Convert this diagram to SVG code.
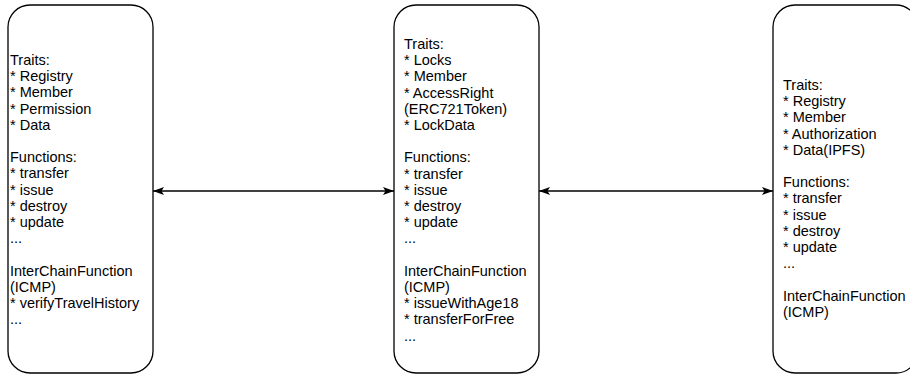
<svg xmlns="http://www.w3.org/2000/svg" width="910" height="376" viewBox="0 0 910 376">
  <style>
    .box { fill: #ffffff; stroke: #000000; stroke-width: 1.3; }
    .label { font-family: "Liberation Sans", Arial, Helvetica, sans-serif; font-size: 14.5px; fill: #000000; }
    .link { fill: none; stroke: #000000; stroke-width: 1.3; }
  </style>
  <defs>
    <marker id="head" viewBox="0 0 11 8" refX="11" refY="4" markerWidth="11" markerHeight="8" markerUnits="userSpaceOnUse" orient="auto-start-reverse">
      <path d="M0,0 L11,4 L0,8 L2.5,4 Z" fill="#000000"/>
    </marker>
  </defs>
  <rect width="910" height="376" fill="#ffffff"/>

  <g id="chain-a">
    <rect class="box" x="8" y="5" width="145" height="368" rx="22" ry="22"/>
    <text class="label" x="10" y="65">
      <tspan x="10">Traits:</tspan>
      <tspan x="10" dy="16.2">* Registry</tspan>
      <tspan x="10" dy="16.2">* Member</tspan>
      <tspan x="10" dy="16.2">* Permission</tspan>
      <tspan x="10" dy="16.2">* Data</tspan>
      <tspan x="10" dy="32.4">Functions:</tspan>
      <tspan x="10" dy="16.2">* transfer</tspan>
      <tspan x="10" dy="16.2">* issue</tspan>
      <tspan x="10" dy="16.2">* destroy</tspan>
      <tspan x="10" dy="16.2">* update</tspan>
      <tspan x="10" dy="16.2">...</tspan>
      <tspan x="10" dy="32.4">InterChainFunction</tspan>
      <tspan x="10" dy="16.2">(ICMP)</tspan>
      <tspan x="10" dy="16.2">* verifyTravelHistory</tspan>
      <tspan x="10" dy="16.2">...</tspan>
    </text>
  </g>

  <g id="chain-b">
    <rect class="box" x="394" y="5" width="145" height="368" rx="22" ry="22"/>
    <text class="label" x="404" y="49">
      <tspan x="404">Traits:</tspan>
      <tspan x="404" dy="16.2">* Locks</tspan>
      <tspan x="404" dy="16.2">* Member</tspan>
      <tspan x="404" dy="16.2">* AccessRight</tspan>
      <tspan x="404" dy="16.2">(ERC721Token)</tspan>
      <tspan x="404" dy="16.2">* LockData</tspan>
      <tspan x="404" dy="32.4">Functions:</tspan>
      <tspan x="404" dy="16.2">* transfer</tspan>
      <tspan x="404" dy="16.2">* issue</tspan>
      <tspan x="404" dy="16.2">* destroy</tspan>
      <tspan x="404" dy="16.2">* update</tspan>
      <tspan x="404" dy="16.2">...</tspan>
      <tspan x="404" dy="32.4">InterChainFunction</tspan>
      <tspan x="404" dy="16.2">(ICMP)</tspan>
      <tspan x="404" dy="16.2">* issueWithAge18</tspan>
      <tspan x="404" dy="16.2">* transferForFree</tspan>
      <tspan x="404" dy="16.2">...</tspan>
    </text>
  </g>

  <g id="chain-c">
    <rect class="box" x="773" y="5" width="145" height="368" rx="22" ry="22"/>
    <text class="label" x="783" y="90">
      <tspan x="783">Traits:</tspan>
      <tspan x="783" dy="16.2">* Registry</tspan>
      <tspan x="783" dy="16.2">* Member</tspan>
      <tspan x="783" dy="16.2">* Authorization</tspan>
      <tspan x="783" dy="16.2">* Data(IPFS)</tspan>
      <tspan x="783" dy="32.4">Functions:</tspan>
      <tspan x="783" dy="16.2">* transfer</tspan>
      <tspan x="783" dy="16.2">* issue</tspan>
      <tspan x="783" dy="16.2">* destroy</tspan>
      <tspan x="783" dy="16.2">* update</tspan>
      <tspan x="783" dy="16.2">...</tspan>
      <tspan x="783" dy="32.4">InterChainFunction</tspan>
      <tspan x="783" dy="16.2">(ICMP)</tspan>
    </text>
  </g>

  <g id="connectors">
    <line class="link" x1="153" y1="191" x2="394" y2="191" marker-start="url(#head)" marker-end="url(#head)"/>
    <line class="link" x1="539" y1="191" x2="773" y2="191" marker-start="url(#head)" marker-end="url(#head)"/>
  </g>
</svg>
